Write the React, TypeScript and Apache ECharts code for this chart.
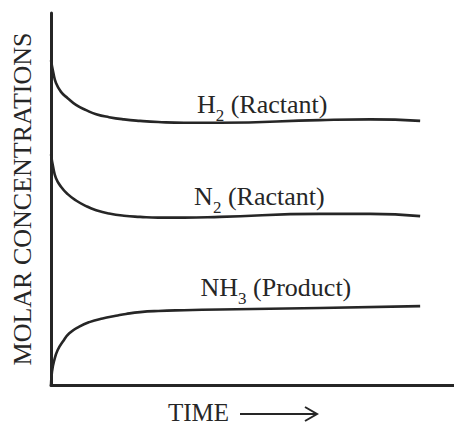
import React, { useEffect, useRef } from 'react';
import * as echarts from 'echarts';

// time (arbitrary units, 0..100) and molar concentration (arbitrary units, 0..100)
const reactantTime = [0, 0.57, 1.24, 2.48, 4.14, 6.2, 8.7, 11.2, 14.4, 18.1, 22.1, 26.6, 33.0, 41.9, 66.7, 79.2, 91.6];
const h2Conc = [87.3, 84.0, 81.2, 78.8, 77.1, 75.3, 73.9, 72.8, 72.0, 71.4, 71.0, 70.7, 70.5, 70.5, 71.2, 71.4, 71.0];
const n2Conc = [62.0, 58.4, 55.6, 53.3, 51.3, 49.6, 48.1, 47.0, 46.1, 45.5, 45.2, 45.0, 45.0, 45.2, 46.0, 46.0, 45.4];

const nh3Time = [0, 0.25, 0.82, 1.66, 2.9, 4.54, 7.02, 9.5, 12.8, 16.1, 18.6, 22.1, 26.6, 33.0, 41.9, 66.7, 91.6];
const nh3Conc = [0, 3.6, 6.7, 9.4, 11.6, 13.9, 15.7, 16.9, 17.9, 18.6, 19.1, 19.6, 19.9, 20.1, 20.3, 20.7, 21.2];

const seriesNames = ['H2', 'N2', 'NH3'];
const labelSymbols = ['H', 'N', 'NH'];
const labelSubs = ['2', '2', '3'];
const labelRoles = [' (Ractant)', ' (Ractant)', ' (Product)'];
// label anchor positions in data units [time, concentration]
const labelTime = [52.4, 51.7, 55.8];
const labelConc = [75.5, 50.8, 26.3];

const yAxisTitle = 'MOLAR CONCENTRATIONS';
const xAxisTitle = 'TIME';

const FONT = "'Liberation Serif', 'Times New Roman', serif";
const INK = '#262626';

function zip(a: number[], b: number[]) {
  return a.map((v, i) => [v, b[i]]);
}

export default function App() {
  const ref = useRef<HTMLDivElement>(null);
  useEffect(() => {
    if (!ref.current) return;
    const chart = echarts.init(ref.current, undefined, { renderer: 'svg' });
    const times = [reactantTime, reactantTime, nh3Time];
    const concs = [h2Conc, n2Conc, nh3Conc];
    const axisCommon = {
      type: 'value' as const,
      min: 0,
      max: 100,
      axisLine: { show: true, lineStyle: { color: INK, width: 3 } },
      axisTick: { show: false },
      axisLabel: { show: false },
      splitLine: { show: false },
    };
    chart.setOption({
      animation: false,
      grid: { left: 51, right: 0, top: 13, bottom: 40 },
      xAxis: { ...axisCommon },
      yAxis: {
        ...axisCommon,
        name: yAxisTitle,
        nameLocation: 'middle',
        nameRotate: 90,
        nameGap: 16,
        nameTextStyle: { fontFamily: FONT, fontSize: 26, color: INK },
      },
      series: seriesNames.map((name, i) => ({
        name,
        type: 'line',
        data: zip(times[i], concs[i]),
        showSymbol: false,
        smooth: 0.5,
        lineStyle: { color: INK, width: 2.6 },
        markPoint: {
          symbol: 'circle',
          symbolSize: 0,
          itemStyle: { color: 'transparent' },
          data: [
            {
              coord: [labelTime[i], labelConc[i]],
              label: {
                show: true,
                position: 'inside',
                formatter: `{m|${labelSymbols[i]}}{s|${labelSubs[i]}}{m|${labelRoles[i]}}`,
                rich: {
                  m: { fontFamily: FONT, fontSize: 26, color: INK, lineHeight: 40, verticalAlign: 'middle' },
                  s: { fontFamily: FONT, fontSize: 17, color: INK, lineHeight: 17, verticalAlign: 'bottom' },
                },
              },
            },
          ],
        },
      })),
      graphic: [
        {
          type: 'text',
          left: 168,
          top: 400,
          style: { text: xAxisTitle, font: `25px ${FONT}`, fill: INK },
        },
        {
          type: 'line',
          shape: { x1: 240, y1: 414, x2: 316, y2: 414 },
          style: { stroke: INK, lineWidth: 2 },
        },
        {
          type: 'polyline',
          shape: { points: [[305, 407], [317, 414], [305, 421]] },
          style: { stroke: INK, lineWidth: 2, fill: 'none' },
        },
      ],
    });
    return () => chart.dispose();
  }, []);
  return <div ref={ref} style={{ position: 'fixed', left: 0, top: 0, width: 454, height: 425, background: '#fff' }} />;
}
